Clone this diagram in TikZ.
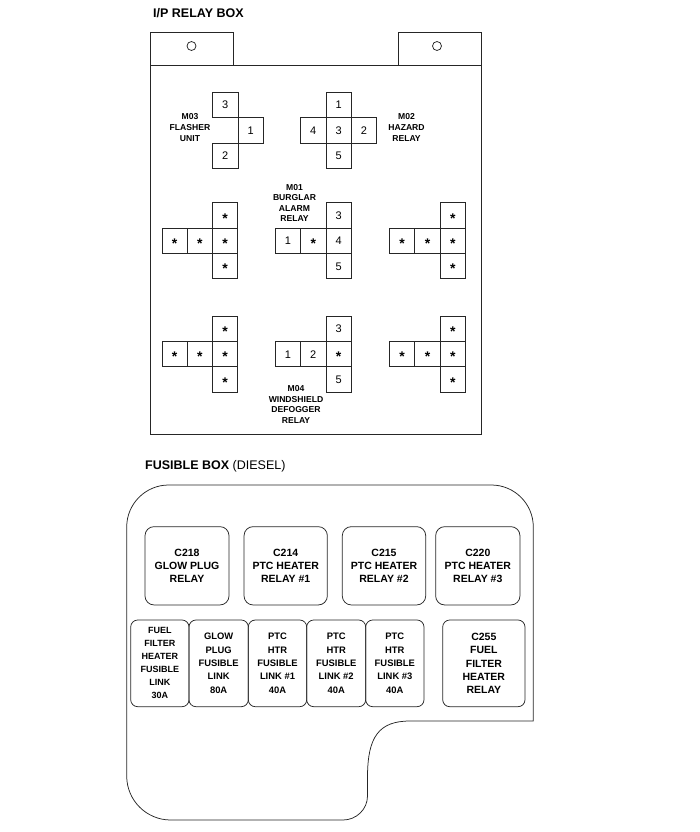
\documentclass[tikz,border=0pt]{standalone}
\usepackage{fontspec}
\setmainfont{Liberation Sans}
\newcommand\myast{\raisebox{-3.8pt}{\fontsize{14}{14}\selectfont\bfseries *}}
\begin{document}
\begin{tikzpicture}[x=1pt,y=-1pt,
  line/.style={draw=black!85,line width=0.75pt},
  cell/.style={line, minimum size=25.3pt, inner sep=0pt, text height=8pt, text depth=0pt, font=\fontsize{11}{13}\selectfont},
  rlabel/.style={font=\bfseries\fontsize{8.6}{10.6}\selectfont, align=center, inner sep=0pt},
  fbox/.style={line, rounded corners=9pt, align=center, inner sep=0pt, minimum height=78.3pt, font=\bfseries\fontsize{10.5}{12.8}\selectfont},
  lbox/.style={line, rounded corners=7pt, align=center, inner sep=0pt, minimum height=86.7pt, font=\bfseries\fontsize{9.4}{13.3}\selectfont},
  title/.style={font=\bfseries\fontsize{12.5}{15}\selectfont, anchor=base west, inner sep=0pt}]
\useasboundingbox (0,0) rectangle (700,832);

% ---------- I/P RELAY BOX ----------
\node[title] (t1) at (153,17.3) {I/P RELAY BOX};
\draw[line] (150,32) rectangle (233,65);
\draw[line] (398,32) rectangle (481,65);
\draw[line] (191.5,46) circle (4.5);
\draw[line] (437,46) circle (4.5);
\draw[line] (150,65) rectangle (481,434.3);

% M03
\node[cell] (m03a) at (225.3,105) {3};
\node[cell] (m03b) at (250.6,130.3) {1};
\node[cell] (m03c) at (225.3,155.6) {2};
\node[rlabel] (m03l) at (190,127.5) {M03\\FLASHER\\UNIT};
% M02
\node[cell] (m02a) at (338.6,105) {1};
\node[cell] (m02b) at (313.3,130.3) {4};
\node[cell] (m02c) at (338.6,130.3) {3};
\node[cell] (m02d) at (363.9,130.3) {2};
\node[cell] (m02e) at (338.6,155.6) {5};
\node[rlabel] (m02l) at (406.5,127.5) {M02\\HAZARD\\RELAY};

% middle row, left
\node[cell] (la1) at (225.2,215.5) {\myast};
\node[cell] (la2) at (174.6,240.8) {\myast};
\node[cell] (la3) at (199.9,240.8) {\myast};
\node[cell] (la4) at (225.2,240.8) {\myast};
\node[cell] (la5) at (225.2,266.1) {\myast};
% M01
\node[cell] (m01a) at (338.6,215.5) {3};
\node[cell] (m01b) at (288,240.8) {1};
\node[cell] (m01c) at (313.3,240.8) {\myast};
\node[cell] (m01d) at (338.6,240.8) {4};
\node[cell] (m01e) at (338.6,266.1) {5};
\node[rlabel] (m01l) at (294.5,203) {M01\\BURGLAR\\ALARM\\RELAY};
% middle row, right
\node[cell] (ra1) at (452.8,215.5) {\myast};
\node[cell] (ra2) at (402.2,240.8) {\myast};
\node[cell] (ra3) at (427.5,240.8) {\myast};
\node[cell] (ra4) at (452.8,240.8) {\myast};
\node[cell] (ra5) at (452.8,266.1) {\myast};

% bottom row, left
\node[cell] (lb1) at (225.2,328.7) {\myast};
\node[cell] (lb2) at (174.6,354) {\myast};
\node[cell] (lb3) at (199.9,354) {\myast};
\node[cell] (lb4) at (225.2,354) {\myast};
\node[cell] (lb5) at (225.2,379.3) {\myast};
% M04
\node[cell] (m04a) at (338.6,328.7) {3};
\node[cell] (m04b) at (288,354) {1};
\node[cell] (m04c) at (313.3,354) {2};
\node[cell] (m04d) at (338.6,354) {\myast};
\node[cell] (m04e) at (338.6,379.3) {5};
\node[rlabel] (m04l) at (296,404.3) {M04\\WINDSHIELD\\DEFOGGER\\RELAY};
% bottom row, right
\node[cell] (rb1) at (452.8,328.7) {\myast};
\node[cell] (rb2) at (402.2,354) {\myast};
\node[cell] (rb3) at (427.5,354) {\myast};
\node[cell] (rb4) at (452.8,354) {\myast};
\node[cell] (rb5) at (452.8,379.3) {\myast};

% ---------- FUSIBLE BOX ----------
\node[title] (t2) at (145,469.3) {FUSIBLE BOX \mdseries(DIESEL)};
\draw[line] (410,721) .. controls (378,721) and (368,738) .. (367.5,775)
  -- (367.5,796) .. controls (367.5,809.3) and (356.3,820) .. (343,820)
  -- (170.7,820) .. controls (146.4,820) and (126.7,800.3) .. (126.7,776)
  -- (126.7,527) .. controls (126.7,503.8) and (145.5,485) .. (168.7,485)
  -- (491.3,485) .. controls (514.5,485) and (533.3,503.8) .. (533.3,527)
  -- (533.3,721) -- cycle;

\node[fbox, minimum width=84pt] (c218) at (187,565.8) {C218\\GLOW PLUG\\RELAY};
\node[fbox, minimum width=83.3pt] (c214) at (285.7,565.8) {C214\\PTC HEATER\\RELAY \#1};
\node[fbox, minimum width=83.4pt] (c215) at (384,565.8) {C215\\PTC HEATER\\RELAY \#2};
\node[fbox, minimum width=84.3pt] (c220) at (477.8,565.8) {C220\\PTC HEATER\\RELAY \#3};

\node[lbox, minimum width=58.3pt, font=\bfseries\fontsize{9}{13}\selectfont] (ffl) at (159.85,663.35) {FUEL\\FILTER\\HEATER\\FUSIBLE\\LINK\\30A};
\node[lbox, minimum width=59.3pt] (gpl) at (218.65,663.35) {GLOW\\PLUG\\FUSIBLE\\LINK\\80A};
\node[lbox, minimum width=58.4pt] (ptc1) at (277.5,663.35) {PTC\\HTR\\FUSIBLE\\LINK \#1\\40A};
\node[lbox, minimum width=59pt] (ptc2) at (336.2,663.35) {PTC\\HTR\\FUSIBLE\\LINK \#2\\40A};
\node[lbox, minimum width=58.3pt] (ptc3) at (394.85,663.35) {PTC\\HTR\\FUSIBLE\\LINK \#3\\40A};
\node[lbox, minimum width=82.3pt, font=\bfseries\fontsize{10.5}{13.3}\selectfont] (c255) at (483.85,663.35) {C255\\FUEL\\FILTER\\HEATER\\RELAY};
\end{tikzpicture}
\end{document}
